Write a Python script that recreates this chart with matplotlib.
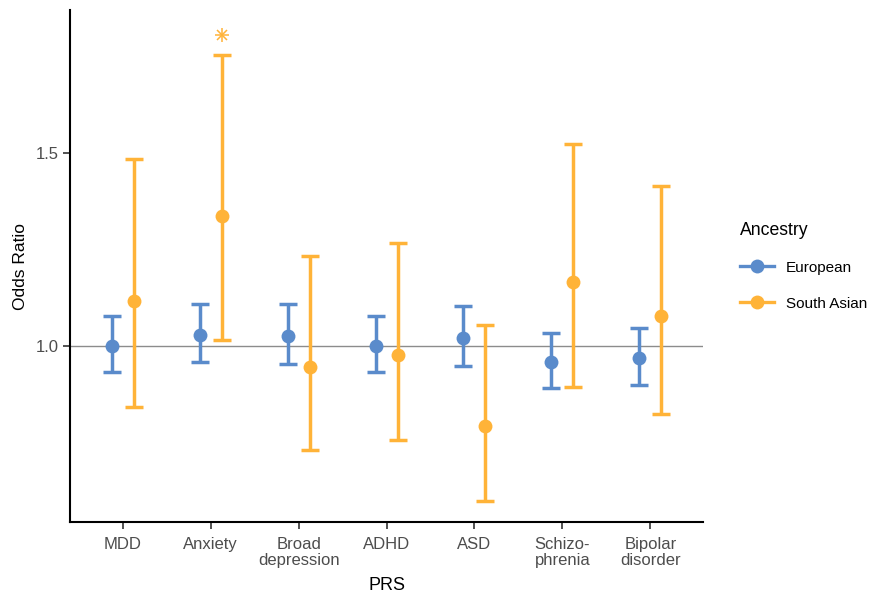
import numpy as np
import matplotlib
matplotlib.use("Agg")
import matplotlib.pyplot as plt
from matplotlib.lines import Line2D

plt.rcParams['font.family'] = ['Liberation Sans', 'DejaVu Sans']

#==================data======================
prs = ["MDD", "Anxiety", "Broad\ndepression", "ADHD", "ASD", "Schizo-\nphrenia", "Bipolar\ndisorder"]

eur_or = [1.000, 1.028, 1.027, 1.000, 1.022, 0.960, 0.968]
eur_lo = [0.932, 0.958, 0.953, 0.934, 0.949, 0.892, 0.899]
eur_hi = [1.079, 1.108, 1.110, 1.078, 1.105, 1.035, 1.047]

sas_or = [1.118, 1.336, 0.947, 0.977, 0.794, 1.166, 1.077]
sas_lo = [0.841, 1.017, 0.730, 0.756, 0.599, 0.893, 0.823]
sas_hi = [1.486, 1.755, 1.233, 1.268, 1.054, 1.523, 1.414]

# significance marker (Anxiety, South Asian)
sig_idx = 1
sig_y = 1.805
#============================================

blue = "#5A8BCB"
orange = "#FFB338"
dodge = 0.125

fig = plt.figure(figsize=(8.72, 5.97), dpi=100)
ax = fig.add_axes([0.0803, 0.1256, 0.726, 0.857])

x = np.arange(1, len(prs) + 1)

ax.axhline(1.0, color="#8C8C8C", lw=1.0, zorder=1)

def draw_group(xpos, orr, lo, hi, col):
    orr = np.array(orr)
    yerr = [orr - np.array(lo), np.array(hi) - orr]
    ax.errorbar(xpos, orr, yerr=yerr, fmt="none", ecolor=col,
                elinewidth=2.5, capsize=6.5, capthick=2.5, zorder=3)
    ax.plot(xpos, orr, "o", color=col, ms=10, mew=0, zorder=4)

draw_group(x - dodge, eur_or, eur_lo, eur_hi, blue)
draw_group(x + dodge, sas_or, sas_lo, sas_hi, orange)

# asterisk = plus + cross overlaid
ax.plot(x[sig_idx] + dodge, sig_y, marker="+", color=orange, ms=10, mew=1.1, ls="none")
ax.plot(x[sig_idx] + dodge, sig_y, marker="x", color=orange, ms=7, mew=1.1, ls="none")

ax.set_xlim(0.4, len(prs) + 0.6)
ax.set_ylim(0.544, 1.870)
ax.set_xticks(x)
ax.set_xticklabels(prs, fontsize=12, color="#4D4D4D", linespacing=1.1)
ax.set_yticks([1.0, 1.5])
ax.set_yticklabels(["1.0", "1.5"], fontsize=12, color="#4D4D4D")
ax.tick_params(axis="y", length=5, width=1.2, color="#333333", pad=3)
ax.tick_params(axis="x", length=5, width=1.2, color="#333333", pad=6)

for s in ["top", "right"]:
    ax.spines[s].set_visible(False)
for s in ["left", "bottom"]:
    ax.spines[s].set_linewidth(1.5)
    ax.spines[s].set_color("black")

ax.set_xlabel("PRS", fontsize=13, labelpad=6)
ax.set_ylabel("Odds Ratio", fontsize=12.5, labelpad=6)

handles = [
    Line2D([0], [0], color=blue, lw=2.4, marker="o", ms=10, mew=0),
    Line2D([0], [0], color=orange, lw=2.4, marker="o", ms=10, mew=0),
]
leg = fig.legend(handles, ["European", "South Asian"], title="Ancestry",
                 loc="upper left", bbox_to_anchor=(0.833, 0.652), frameon=False,
                 fontsize=11, title_fontsize=12.7, handlelength=2.2,
                 labelspacing=1.45, alignment="left")

fig.savefig("out.png", dpi=100)
